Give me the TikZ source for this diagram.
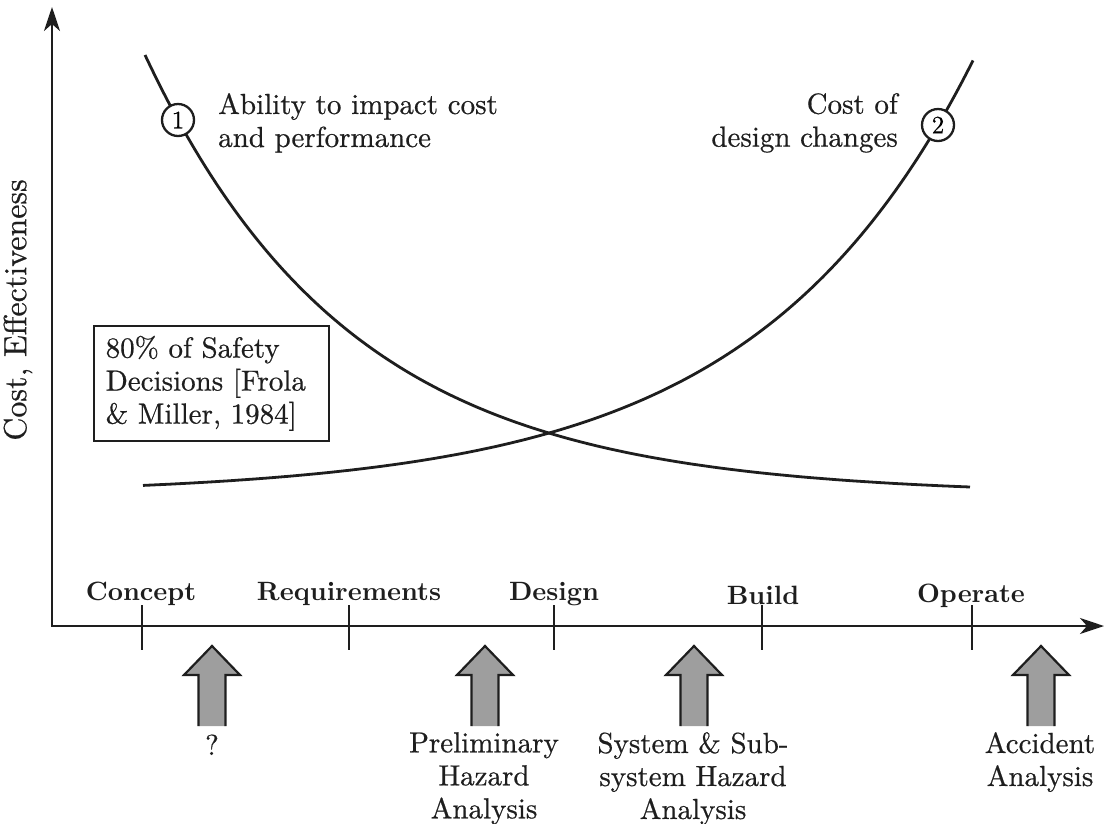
\documentclass[tikz,border=0pt]{standalone}
\usepackage{fontspec}
\setmainfont{lmroman10-regular}[Extension=.otf, BoldFont=lmroman10-bold, UprightFeatures={FakeBold=0.6}]
\usetikzlibrary{arrows.meta}
\definecolor{arrowfill}{RGB}{158,158,158}
\definecolor{ink}{RGB}{30,30,30}
\begin{document}
\begin{tikzpicture}[x=1pt,y=-1pt,
  axisline/.style={line width=2.4pt, draw=ink, line join=miter,
    {Stealth[length=24pt,width=16pt,inset=7pt]}-{Stealth[length=24pt,width=16pt,inset=7pt]}},
  tickmark/.style={line width=2.4pt, draw=ink},
  curveline/.style={line width=2.8pt, draw=ink},
  numcirc/.style={circle, draw=ink, line width=2.3pt, fill=white, minimum size=32pt, inner sep=0pt, font=\fontsize{25}{25}\selectfont},
  lbl/.style={font=\fontsize{29}{33}\selectfont, inner sep=0pt, text=ink},
  phase/.style={font=\fontsize{26.5}{30}\selectfont\bfseries, inner sep=0pt, anchor=base, text=ink},
  uparrow/.pic={
    \fill[arrowfill] (-13.5,80) -- (-13.5,29) -- (-28,29) -- (0,0) -- (28,29) -- (13.5,29) -- (13.5,80) -- cycle;
    \draw[line width=2.2pt, draw=ink, line join=miter] (-13.5,80) -- (-13.5,29) -- (-28,29) -- (0,0) -- (28,29) -- (13.5,29) -- (13.5,80);
  }
]
\useasboundingbox (0,0) rectangle (1104,823);

% axes
\coordinate (O) at (52,626);
\coordinate (ytip) at (52,7);
\coordinate (xtip) at (1104,626);
\draw[axisline] (ytip) -- (O) -- (xtip);

% ticks
\foreach \x/\n in {142/a,349/b,554/c,762/d,972/e}{
  \coordinate (t\n top) at (\x,605);
  \coordinate (t\n bot) at (\x,650);
  \draw[tickmark] (t\n top) -- (t\n bot);
}

% phase labels
\node[phase] (concept) at (141,600) {Concept};
\node[phase] (requirements) at (349,600) {Requirements};
\node[phase] (design) at (554,600) {Design};
\node[phase] (build) at (763,604) {Build};
\node[phase] (operate) at (971,602) {Operate};

% curves
\draw[curveline] plot[domain=145:970, samples=150] (\x,{495-440*exp(-0.00485*(\x-145))});
\draw[curveline] plot[domain=143:973, samples=150] (\x,{495-370*exp(0.0046*(\x-938))});

% numbered circles
\node[numcirc] (c1) at (178,120) {1};
\node[numcirc] (c2) at (938,125) {2};

% curve labels
\node[lbl, anchor=north west, align=left] (ability) at (218,93) {Ability to impact cost\\and performance};
\node[lbl, anchor=north east, align=right] (costof) at (898,93) {Cost of\\design changes};

% box
\node[lbl, draw=ink, line width=2.4pt, text width=212pt, inner xsep=11.5pt, inner ysep=10pt, anchor=south west, align=left] (safety) at (93,442) {80\% of Safety\\Decisions [Frola\\\& Miller, 1984]};

% y label
\node[lbl, rotate=90, font=\fontsize{32}{36}\selectfont] (ylab) at (18,310) {Cost, Effectiveness};

% block arrows
\pic (arr1) at (212,646) {uparrow};
\pic (arr2) at (485,646) {uparrow};
\pic (arr3) at (694,646) {uparrow};
\pic (arr4) at (1041,646) {uparrow};

% arrow labels
\node[lbl, anchor=base] (q) at (212,755) {?};
\node[lbl, anchor=north, align=center] (pha) at (484,732) {Preliminary\\Hazard\\Analysis};
\node[lbl, anchor=north, align=center] (ssha) at (693,732) {System \& Sub-\\system Hazard\\Analysis};
\node[lbl, anchor=north, align=center] (acc) at (1040,732) {Accident\\Analysis};
\end{tikzpicture}
\end{document}
